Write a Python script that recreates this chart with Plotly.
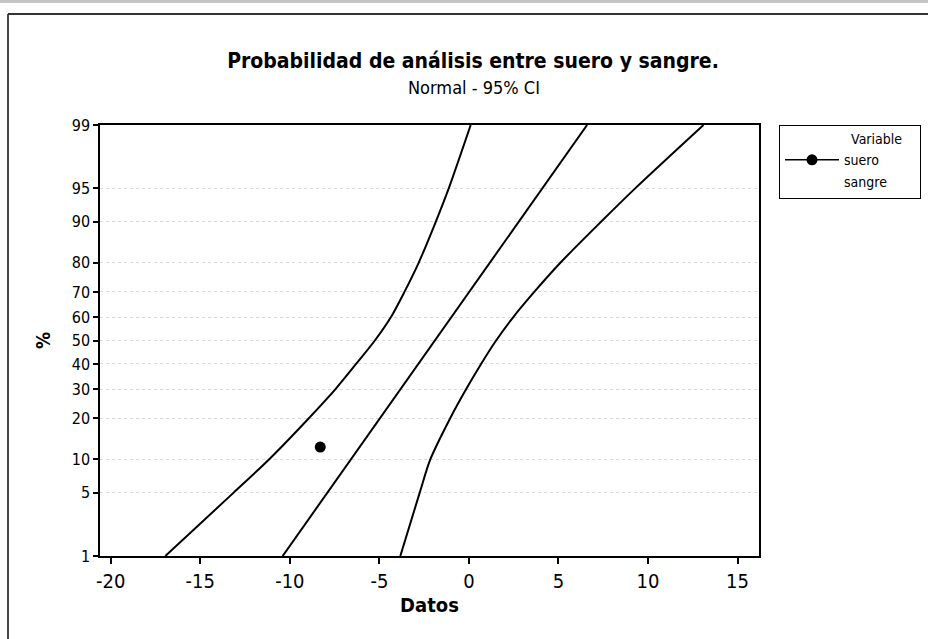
from statistics import NormalDist

import plotly.graph_objects as go

# Percent levels at which the confidence bands are traced
band_pct = [1, 5, 10, 20, 30, 40, 50, 60, 70, 80, 90, 95, 99]
band_lower = [-16.95, -13.15, -11.15, -8.95, -7.45, -6.3, -5.25, -4.35, -3.6, -2.8, -1.85, -1.12, 0.1]
band_upper = [-3.83, -2.75, -2.15, -1.05, -0.15, 0.68, 1.52, 2.48, 3.65, 5.12, 7.38, 9.3, 13.1]

# Fitted normal line (percent, datos)
fit_pct = [1, 99]
fit_x = [-10.4, 6.6]

# Observed value
suero_x = [-8.3]
suero_pct = [12.5]

# Probability-scale ticks
y_ticks_pct = [1, 5, 10, 20, 30, 40, 50, 60, 70, 80, 90, 95, 99]
x_ticks = [-20, -15, -10, -5, 0, 5, 10, 15]
x_tick_text = ["-20", "-15", "-10", "-5", "0", "5", "10", "15"]

NBSP = "\u00a0"

nd = NormalDist()


def z(p):
    return nd.inv_cdf(p / 100.0)


def zs(ps):
    return [z(p) for p in ps]


FONT = "DejaVu Sans Condensed, DejaVu Sans"
line_style = dict(color="black", width=2)

fig = go.Figure()

fig.add_trace(go.Scatter(x=band_lower, y=zs(band_pct), mode="lines",
                         line=dict(**line_style, shape="spline", smoothing=0.8),
                         showlegend=False, hoverinfo="skip"))
fig.add_trace(go.Scatter(x=fit_x, y=zs(fit_pct), mode="lines",
                         line=line_style, showlegend=False, hoverinfo="skip"))
fig.add_trace(go.Scatter(x=band_upper, y=zs(band_pct), mode="lines",
                         line=dict(**line_style, shape="spline", smoothing=0.8),
                         showlegend=False, hoverinfo="skip"))

# Legend entries (trailing no-break spaces widen the legend box)
fig.add_trace(go.Scatter(x=suero_x, y=zs(suero_pct), mode="markers+lines",
                         name="suero", legendgroup="a",
                         marker=dict(color="black", size=11, symbol="circle"),
                         line=dict(color="black", width=1.5)))
fig.add_trace(go.Scatter(x=[None], y=[None], mode="lines",
                         name="sangre" + NBSP * 7,
                         legendgroup="b",
                         line=dict(color="rgba(0,0,0,0)", width=0)))

fig.update_layout(
    width=928, height=639,
    margin=dict(l=100, r=169, t=125, b=83, autoexpand=False),
    paper_bgcolor="white", plot_bgcolor="white",
    font=dict(family=FONT, color="black", size=16),
    title=dict(text="<b>Probabilidad de análisis entre suero y sangre.</b>",
               x=473 / 928, xanchor="center", y=1 - 61 / 639, yanchor="middle",
               font=dict(family=FONT, size=21, color="black")),
    showlegend=True,
    legend=dict(x=(779 - 100) / 659, xanchor="left", y=1, yanchor="top",
                bordercolor="black", borderwidth=1, bgcolor="white",
                font=dict(family=FONT, size=14),
                title=dict(text="Variable" + NBSP * 4, side="top right",
                           font=dict(family=FONT, size=14)),
                itemwidth=54, tracegroupgap=1, traceorder="grouped"),
    annotations=[
        dict(text="Normal - 95% CI", xref="paper", yref="paper",
             x=(474 - 100) / 659, y=(556 - 87) / 431, xanchor="center",
             yanchor="middle", showarrow=False,
             font=dict(family=FONT, size=18, color="black")),
    ],
    shapes=[
        dict(type="line", xref="paper", yref="paper",
             x0=(0 - 100) / 659, x1=(928 - 100) / 659,
             y0=(556 - 1.5) / 431, y1=(556 - 1.5) / 431,
             line=dict(color="#c4c4c4", width=3)),
        dict(type="line", xref="paper", yref="paper",
             x0=(8 - 100) / 659, x1=(928 - 100) / 659,
             y0=(556 - 14) / 431, y1=(556 - 14) / 431,
             line=dict(color="#333", width=1.8)),
        dict(type="line", xref="paper", yref="paper",
             x0=(8 - 100) / 659, x1=(8 - 100) / 659,
             y0=(556 - 14) / 431, y1=(556 - 639) / 431,
             line=dict(color="#333", width=1.8)),
    ],
)

fig.update_xaxes(
    range=[-20.6, 16.2], tickvals=x_ticks, ticktext=x_tick_text,
    ticks="outside", ticklen=6,
    tickwidth=1.5, tickcolor="black", showline=True, linecolor="black",
    linewidth=1.5, mirror=True, showgrid=False, zeroline=False,
    tickfont=dict(family=FONT, size=20),
    title=dict(text="<b>Datos</b>", font=dict(family=FONT, size=20), standoff=6),
)
fig.update_yaxes(
    range=[z(1), z(99)], tickvals=zs(y_ticks_pct),
    ticktext=[str(p) for p in y_ticks_pct], ticks="outside", ticklen=5,
    tickwidth=1.5, tickcolor="black", showline=True, linecolor="black",
    linewidth=1.5, mirror=True, showgrid=True, gridcolor="#d9d9d9",
    griddash="dot", gridwidth=1, zeroline=False,
    tickfont=dict(family=FONT, size=16),
    title=dict(text="<b>%</b>", font=dict(family=FONT, size=19), standoff=16),
)

fig.write_html("out.html")
